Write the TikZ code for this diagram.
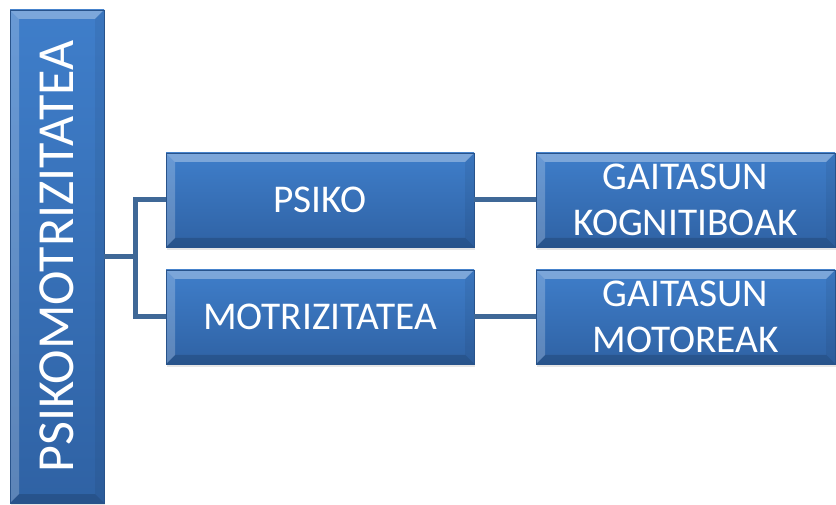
\documentclass[tikz,border=0pt]{standalone}
\usepackage{fontspec}
\setmainfont{Carlito}
\usetikzlibrary{shadows}
\definecolor{boxtop}{HTML}{3F7ECA}
\definecolor{boxbot}{HTML}{2F62A4}
\definecolor{linkblue}{HTML}{3F6897}
\begin{document}
\begin{tikzpicture}[
    x=0.75pt, y=0.75pt,
    bevelbox/.style={rectangle, inner sep=0pt, text=white, align=center,
        top color=boxtop, bottom color=boxbot,
        draw=boxbot!85!black, line width=0.4pt,
        drop shadow={opacity=0.2, shadow xshift=1pt, shadow yshift=-2pt},
        path picture={
            \fill[white, opacity=0.32] (path picture bounding box.north west) -- (path picture bounding box.north east)
                -- ([shift={(-9,-9)}]path picture bounding box.north east) -- ([shift={(9,-9)}]path picture bounding box.north west) -- cycle;
            \fill[white, opacity=0.22] (path picture bounding box.north west) -- ([shift={(9,-9)}]path picture bounding box.north west)
                -- ([shift={(9,9)}]path picture bounding box.south west) -- (path picture bounding box.south west) -- cycle;
            \fill[black, opacity=0.15] (path picture bounding box.south west) -- (path picture bounding box.south east)
                -- ([shift={(-9,9)}]path picture bounding box.south east) -- ([shift={(9,9)}]path picture bounding box.south west) -- cycle;
            \fill[black, opacity=0.06] (path picture bounding box.north east) -- ([shift={(-9,-9)}]path picture bounding box.north east)
                -- ([shift={(-9,9)}]path picture bounding box.south east) -- (path picture bounding box.south east) -- cycle;
        }},
    branch/.style={bevelbox, minimum width=231pt, minimum height=70.5pt, font=\fontsize{29.5}{30}\selectfont},
    leaf/.style={bevelbox, minimum width=224.25pt, minimum height=70.5pt, font=\fontsize{29.5}{35}\selectfont},
    link/.style={draw=linkblue, line width=3.75pt}
]
    \useasboundingbox (0,0) rectangle (836,504);

    % Boxes
    \node[bevelbox, minimum width=70.5pt, minimum height=369.75pt, font=\fontsize{39}{40}\selectfont] (root) at (57,247.5)
        {\rotatebox{90}{PSIKOMOTRIZITATEA}};
    \node[branch] (psiko) at (320,304) {PSIKO};
    \node[branch] (motri) at (320,187) {MOTRIZITATEA};
    \node[leaf] (kogni) at (685.5,304) {GAITASUN\\KOGNITIBOAK};
    \node[leaf] (motor) at (685.5,187) {GAITASUN\\MOTOREAK};

    % Connectors
    \draw[link] (root.east) -- ++(31,0) coordinate (fork);
    \draw[link] (fork) |- (psiko.west);
    \draw[link] (fork) |- (motri.west);
    \draw[link] (psiko) -- (kogni);
    \draw[link] (motri) -- (motor);
\end{tikzpicture}
\end{document}
